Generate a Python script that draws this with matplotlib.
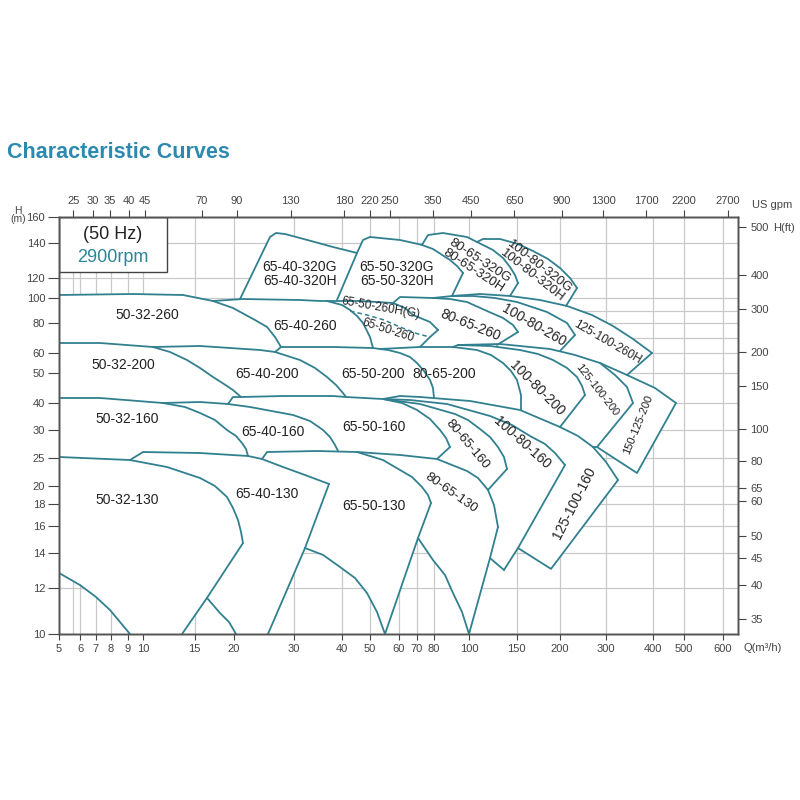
import numpy as np
import matplotlib
matplotlib.use("Agg")
import matplotlib.pyplot as plt
from matplotlib.patches import Polygon, Rectangle

plt.rcParams["font.family"] = ["Liberation Sans", "DejaVu Sans"]

TEAL = "#31808f"
TITLE_BLUE = "#2d89b0"
GRID = "#c9c9c9"
AXIS = "#555555"

# axis ticks
Q_TICKS = [5, 6, 7, 8, 9, 10, 15, 20, 30, 40, 50, 60, 70, 80, 100, 150, 200, 300, 400, 500, 600]
H_TICKS = [10, 12, 14, 16, 18, 20, 25, 30, 40, 50, 60, 80, 100, 120, 140, 160]
GPM_TICKS = [25, 30, 35, 40, 45, 70, 90, 130, 180, 220, 250, 350, 450, 650, 900, 1300, 1700, 2200, 2700]
FT_TICKS = [35, 40, 45, 50, 60, 65, 80, 100, 150, 200, 300, 400, 500]
Q_GRID = [5.68, 6, 7, 8, 9, 10, 15, 20, 30, 40, 50, 60, 70, 80, 100, 150, 200, 300, 400, 500, 600]
H_GRID = [12, 14, 16, 18, 20, 25, 30, 40, 50, 60, 70, 80, 90, 100, 120, 140]

# the sheet's axes are not a clean log scale: value -> pixel calibration read off the ticks
Q_CAL = [5, 6, 7, 8, 9, 10, 15, 20, 30, 40, 50, 60, 70, 80, 100, 150, 200, 300, 400, 500, 600, 640]
X_CAL = [59, 80, 95.5, 111, 127.5, 143, 194.5, 234, 293.5, 341.5, 370, 399, 417, 434, 469,
         516.5, 560, 605.5, 653, 684, 723, 738]
H_CAL = [10, 12, 14, 16, 18, 20, 25, 30, 40, 50, 60, 80, 100, 120, 140, 160]
Y_CAL = [166, 212, 247, 274, 296, 314, 342, 370, 397, 427, 447, 477, 502, 522, 557, 583]

M3H_TO_GPM = 4.403
M_TO_FT = 3.281

# ---- boundary curves of the pump ranges, (Q m3/h, H m) ----
# size 130
top_50_32_130 = [(5, 25.18), (9.16, 24.64), (12.33, 23.39), (15.7, 21.43), (17.59, 20), (19.11, 18.78),
                 (19.87, 17.64), (20.67, 16.55), (21.18, 15.56), (21.51, 14.74)]
edge_50_32_130 = [(21.51, 14.74), (16.58, 11.57), (13.79, 10)]
min_50_32_130 = [(9.16, 10), (7.94, 11.04), (7.03, 11.61), (6, 12.17), (5, 12.86)]
top_65_40_130 = [(9.16, 24.64), (10, 26.07), (15.7, 25.89), (22.35, 25.36), (24.71, 24.82), (28.24, 23.39),
                 (32.4, 21.96), (37.4, 20.36)]
edge_65_40_130 = [(37.4, 20.36), (32.4, 14.37), (25.71, 10)]
min_65_40_130 = [(16.58, 11.57), (18.23, 10.91), (19.37, 10.52), (20.34, 10)]
top_65_50_130 = [(24.71, 24.82), (25.55, 26.07), (34.9, 26.25), (45.44, 26.07), (54.48, 24.64), (60.56, 22.86),
                 (67.2, 21.61), (72.94, 19.89), (76.47, 19), (78.24, 18.11)]
edge_65_50_130 = [(78.24, 18.11), (70.59, 15.11), (55.17, 10)]
min_65_50_130 = [(32.4, 14.37), (36.15, 13.89), (39.69, 13.2), (44.74, 12.57), (48.95, 11.78), (52.41, 10.96),
                 (55.17, 10)]
top_80_65_130 = [(45.44, 26.07), (60.56, 25.54), (81.71, 24.82), (98.86, 22.68), (109.47, 21.43), (120, 19.56),
                 (126.3, 17.91), (130.5, 15.93)]
edge_80_65_130 = [(130.5, 15.93), (122.1, 13.71), (100, 10)]
min_80_65_130 = [(70.59, 15.11), (79.41, 13.6), (86.29, 12.74), (90.86, 11.78), (96, 10.96), (100, 10)]

# size 160
top_50_32_160 = [(5, 41.67), (7.29, 41.67), (11.94, 40)]
right_50_32_160 = [(11.94, 40), (14.08, 38.52), (15.7, 36.3), (17.59, 33.7), (19.11, 30), (20.34, 28.93),
                   (21.34, 27.68), (22.02, 26.61), (22.35, 25.36)]
top_65_40_160 = [(11.94, 40), (15.7, 40.33), (19.24, 39.63), (22.69, 38.52), (29.92, 35.56), (33.44, 33.33),
                 (36.15, 30), (37.6, 28.75), (38.65, 27.32), (39.27, 26.25)]
top_65_50_160 = [(19.24, 39.63), (19.87, 42), (21.18, 42), (28.24, 42.33), (38.23, 42.33), (41.58, 42),
                 (54.48, 41.33), (61.67, 40), (70, 37.41), (77.65, 34.07), (83.43, 30), (86.86, 28.57),
                 (89.14, 26.96)]
edge_65_50_160 = [(89.14, 26.96), (81.71, 24.82)]
top_80_65_160 = [(54.48, 41.33), (71.76, 39.63), (92, 35.93), (99.43, 33.7), (111.58, 30.37), (122.1, 28.75),
                 (130.5, 26.96), (136.8, 25.18), (140, 23.04)]
edge_80_65_160 = [(140, 23.04), (120, 19.56)]
top_100_80_160 = [(54.48, 41.33), (66.11, 41), (87.43, 39.63), (122.1, 35.19), (145.26, 31.85), (165.52, 28.93),
                  (182.76, 27.5), (194.25, 25.89), (210.99, 23.75)]
edge_100_80_160 = [(210.99, 23.75), (151.72, 14.37), (136.84, 13.03)]
low_100_80_160 = [(136.84, 13.03), (122.1, 13.71)]
top_125_100_160 = [(54.48, 41.33), (60.56, 42.33), (71.76, 42), (101.05, 40.67), (154.02, 37.41), (200, 31.11),
                   (239.56, 28.93), (272.53, 26.96), (301.05, 24.29), (326.32, 21.07)]
edge_125_100_160 = [(326.32, 21.07), (189.66, 13.09), (151.72, 14.37)]

# size 200
top_50_32_200 = [(5, 66.67), (7.29, 66.67), (10.97, 64)]
right_50_32_200 = [(10.97, 64), (12.62, 60.67), (14.27, 56.5), (15.7, 52.5), (17.34, 48.67), (18.73, 46.33),
                   (19.87, 44.33), (21.18, 42)]
top_65_40_200 = [(10.97, 64), (15.7, 64.67), (24.37, 62), (26.89, 60.67), (31.35, 56.5), (34.48, 52.5),
                 (36.98, 48.67), (38.85, 46), (40.53, 43.33), (41.58, 42)]
top_65_50_200 = [(26.89, 60.67), (27.9, 64), (38.23, 64), (51.03, 63.33), (53.45, 62.67), (56.21, 62),
                 (60.56, 60), (66.11, 58), (70, 55), (74.12, 51), (77.65, 47.67), (79.41, 45), (80, 41.67)]
top_80_65_200 = [(53.45, 62.67), (71.76, 64), (90.86, 64), (108.42, 62), (123.16, 59), (135.79, 55),
                 (144.21, 51), (150.57, 47.67), (155.17, 42.67), (155.17, 37.41)]
top_100_80_200 = [(90.86, 64), (93.71, 65.33), (122.1, 64.67), (154.02, 62), (174.71, 59.5), (191.95, 56.5),
                  (215.38, 52.5), (237.36, 48.67), (248.35, 45.67), (254.95, 42.67)]
edge_100_80_200 = [(254.95, 42.67), (200, 31.11)]
top_125_100_200 = [(93.71, 65.33), (132.63, 66), (188.51, 62.67), (232.97, 59), (287.91, 55), (320, 49.33),
                   (345.26, 45.33), (357.89, 40)]
edge_125_100_200 = [(357.89, 40), (281.32, 26.96), (272.53, 26.96)]
top_150_125_200 = [(287.91, 55), (345.26, 49.33), (406.45, 45), (474.19, 40)]
edge_150_125_200 = [(474.19, 40), (366.32, 22.32), (281.32, 26.96)]

# size 260
top_50_32_260 = [(5, 103), (9.35, 104), (13.88, 103), (17.34, 97.6)]
right_50_32_260 = [(17.34, 97.6), (19.87, 92), (23.53, 82.4), (25.55, 77.33), (26.89, 70.67), (27.9, 64)]
top_65_40_260 = [(17.34, 97.6), (21.51, 99.2), (31.35, 98.4), (35.52, 97.6), (36.98, 97.6), (40.18, 94.4),
                 (42.98, 90.4), (45.44, 85.6), (47.54, 80), (50, 70.67), (51.03, 63.33)]
top_65_50_260 = [(36.98, 97.6), (46.49, 97.6), (57.93, 96), (63.33, 92), (67.78, 86.4), (77.65, 80.8),
                 (82.29, 75.33)]
edge_65_50_260 = [(82.29, 75.33), (77.65, 70.67), (71.76, 64)]
std_65_50_260 = [(42.98, 89.6), (48.95, 86.4), (54.83, 82.4), (60.56, 77.33), (70.59, 72.67), (77.65, 70.67)]
top_80_65_260 = [(57.93, 96), (60.56, 101), (79.41, 100), (89.14, 99.2), (98.86, 96.8), (118.95, 89.6),
                 (135.79, 84), (146.32, 78.67), (151.72, 74)]
edge_80_65_260 = [(151.72, 74), (129.47, 65.33)]
top_100_80_260 = [(79.41, 100), (90.29, 102), (104.21, 102), (127.37, 100), (150.57, 96.8), (185.06, 88.8),
                  (215.38, 80), (232.97, 72)]
edge_100_80_260 = [(232.97, 72), (200, 61.33)]
top_125_100_260 = [(90.29, 102), (111.58, 104), (143.16, 102), (177.01, 98.4), (215.38, 93.6), (270.33, 86.4),
                   (315.79, 78), (357.89, 69.33), (397.89, 60)]
edge_125_100_260 = [(397.89, 60), (345.26, 49.33)]

# size 320
outline_65_40_320 = [(21.01, 99.2), (26.05, 144.62), (27.06, 147.69), (28.57, 146.92), (31.35, 143.85),
                     (38.23, 137.71), (45.44, 134.29)]
left_65_50_320 = [(39.06, 98.4), (45.44, 134.29), (47.54, 142.31), (50, 144.62)]
top_65_50_320 = [(50, 144.62), (60.56, 142.31), (70.59, 139.43), (72.94, 138.86), (79.41, 136.57),
                 (89.14, 130.29), (93.14, 126.86), (96.57, 122.86)]
edge_65_50_320 = [(96.57, 122.86), (90.29, 102)]
top_80_65_320 = [(72.94, 138.86), (76.47, 146.15), (85.14, 147.69), (98.86, 144.62), (108.42, 140.77),
                 (125.26, 136), (135.79, 131.43), (143.16, 126.29), (148.42, 121.71), (151.72, 115)]
edge_80_65_320 = [(151.72, 115), (143.16, 102)]
top_100_80_320 = [(108.42, 140.77), (114.74, 143.08), (132.63, 143.08), (151.72, 139.43), (168.97, 135.43),
                  (186.21, 130.86), (200, 125.71), (221.98, 120), (237.36, 110)]
edge_100_80_320 = [(237.36, 110), (213.19, 93.6)]

curves = [
    top_50_32_130, edge_50_32_130, min_50_32_130, top_65_40_130, edge_65_40_130, min_65_40_130,
    top_65_50_130, edge_65_50_130, min_65_50_130, top_80_65_130, edge_80_65_130, min_80_65_130,
    top_50_32_160, right_50_32_160, top_65_40_160, top_65_50_160, edge_65_50_160, top_80_65_160,
    edge_80_65_160, top_100_80_160, edge_100_80_160, low_100_80_160, top_125_100_160, edge_125_100_160,
    top_50_32_200, right_50_32_200, top_65_40_200, top_65_50_200, top_80_65_200, top_100_80_200,
    edge_100_80_200, top_125_100_200, edge_125_100_200, top_150_125_200, edge_150_125_200,
    top_50_32_260, right_50_32_260, top_65_40_260, top_65_50_260, edge_65_50_260, top_80_65_260,
    edge_80_65_260, top_100_80_260, edge_100_80_260, top_125_100_260, edge_125_100_260,
    outline_65_40_320, left_65_50_320, top_65_50_320, edge_65_50_320, top_80_65_320, edge_80_65_320,
    top_100_80_320, edge_100_80_320,
]

# each range's white area, walked along its boundary curves (curve, from index, to index)
regions = [
    [(top_50_32_130, 0, 9), (edge_50_32_130, 0, 2), (min_50_32_130, 0, 4)],
    [(top_65_40_130, 0, 7), (edge_65_40_130, 0, 2), (min_65_40_130, 3, 0), (edge_50_32_130, 1, 0),
     (top_50_32_130, 9, 1)],
    [(top_65_50_130, 0, 9), (edge_65_50_130, 0, 2), (min_65_50_130, 6, 0), (edge_65_40_130, 1, 0),
     (top_65_40_130, 7, 4)],
    [(top_80_65_130, 0, 7), (edge_80_65_130, 0, 2), (min_80_65_130, 5, 0), (edge_65_50_130, 1, 0),
     (top_65_50_130, 9, 3)],
    [(top_50_32_160, 0, 2), (right_50_32_160, 0, 8), (top_65_40_130, 3, 0), (top_50_32_130, 1, 0)],
    [(top_65_40_160, 0, 9), (top_65_50_130, 2, 0), (top_65_40_130, 3, 3), (right_50_32_160, 8, 0)],
    [(top_65_50_160, 0, 12), (edge_65_50_160, 0, 1), (top_80_65_130, 2, 0), (top_65_40_160, 9, 2)],
    [(top_80_65_160, 0, 8), (edge_80_65_160, 0, 1), (top_80_65_130, 5, 2), (edge_65_50_160, 1, 0),
     (top_65_50_160, 12, 6)],
    [(top_100_80_160, 0, 8), (edge_100_80_160, 0, 2), (low_100_80_160, 0, 1), (edge_80_65_130, 1, 0),
     (top_80_65_130, 7, 5), (edge_80_65_160, 1, 0), (top_80_65_160, 8, 0)],
    [(top_125_100_160, 0, 9), (edge_125_100_160, 0, 2), (edge_100_80_160, 1, 0), (top_100_80_160, 8, 0)],
    [(top_50_32_200, 0, 2), (right_50_32_200, 0, 7), (top_65_50_160, 2, 0), (top_65_40_160, 2, 0),
     (top_50_32_160, 2, 0)],
    [(top_65_40_200, 0, 9), (top_65_50_160, 5, 2), (right_50_32_200, 7, 0)],
    [(top_65_50_200, 0, 12), (top_125_100_160, 2, 0), (top_65_50_160, 5, 5), (top_65_40_200, 9, 3)],
    [(top_80_65_200, 0, 9), (top_125_100_160, 3, 3), (top_65_50_200, 12, 4)],
    [(top_100_80_200, 0, 9), (edge_100_80_200, 0, 1), (top_125_100_160, 5, 4), (top_80_65_200, 9, 2)],
    [(top_125_100_200, 0, 7), (edge_125_100_200, 0, 2), (top_125_100_160, 7, 5), (edge_100_80_200, 1, 0),
     (top_100_80_200, 9, 1)],
    [(top_150_125_200, 0, 3), (edge_150_125_200, 0, 2), (edge_125_100_200, 1, 0), (top_125_100_200, 7, 4)],
    [(top_50_32_260, 0, 3), (right_50_32_260, 0, 5), (top_65_40_200, 3, 0), (top_50_32_200, 2, 0)],
    [(top_65_40_260, 0, 10), (top_65_50_200, 2, 1), (right_50_32_260, 5, 0)],
    [(top_65_50_260, 0, 6), (edge_65_50_260, 0, 2), (top_80_65_200, 0, 0), (top_65_50_200, 3, 3),
     (top_65_40_260, 10, 4)],
    [(top_80_65_260, 0, 8), (edge_80_65_260, 0, 1), (top_125_100_200, 0, 0), (top_80_65_200, 2, 1),
     (edge_65_50_260, 2, 0), (top_65_50_260, 6, 2)],
    [(top_100_80_260, 0, 7), (edge_100_80_260, 0, 1), (top_125_100_200, 2, 1), (edge_80_65_260, 1, 0),
     (top_80_65_260, 8, 2)],
    [(top_125_100_260, 0, 8), (edge_125_100_260, 0, 1), (top_150_125_200, 0, 0), (top_125_100_200, 3, 3),
     (edge_100_80_260, 1, 0), (top_100_80_260, 7, 1)],
    [(outline_65_40_320, 0, 6), (left_65_50_320, 1, 0), (top_65_50_260, 0, 0), (top_65_40_260, 3, 1)],
    [(left_65_50_320, 0, 3), (top_65_50_320, 0, 7), (edge_65_50_320, 0, 1), (top_100_80_260, 0, 0),
     (top_80_65_260, 1, 0), (top_65_50_260, 1, 1)],
    [(top_80_65_320, 0, 9), (edge_80_65_320, 0, 1), (top_125_100_260, 2, 0), (edge_65_50_320, 1, 0),
     (top_65_50_320, 7, 3)],
    [(top_100_80_320, 0, 8), (edge_100_80_320, 0, 1), (top_125_100_260, 4, 2), (edge_80_65_320, 1, 0),
     (top_80_65_320, 9, 4)],
]

# label text, Q, H, rotation, font size
labels = [
    ("65-40-320G\n65-40-320H", 31.35, 122.3, 0, 10),
    ("65-50-320G\n65-50-320H", 59.3, 122.3, 0, 10),
    ("80-65-320G\n80-65-320H", 108.4, 126.9, -33, 9.5),
    ("100-80-320G\n100-80-320H", 172.4, 124, -38, 9.5),
    ("50-32-260", 10.39, 86.4, 0, 10),
    ("65-40-260", 32.4, 78, 0, 10),
    ("65-50-260H(G)", 53.8, 92, -10, 8.5),
    ("65-50-260", 56.2, 75.33, -18, 8.5),
    ("80-65-260", 101, 78.67, -22, 10),
    ("100-80-260", 170, 78.67, -30, 10),
    ("125-100-260H", 303, 67.3, -30, 8.5),
    ("50-32-200", 8.76, 54, 0, 10),
    ("65-40-200", 25.5, 49.67, 0, 10),
    ("65-50-200", 51, 49.67, 0, 10),
    ("80-65-200", 85.7, 49.67, 0, 10),
    ("100-80-200", 173.6, 45, -45, 10),
    ("125-100-200", 281.3, 44.33, -52, 8),
    ("150-125-200", 368, 31.85, 68, 8),
    ("50-32-160", 9, 34.1, 0, 10),
    ("65-40-160", 26.6, 29.64, 0, 10),
    ("65-50-160", 51.4, 31.1, 0, 10),
    ("80-65-160", 98.9, 27.5, -50, 9.5),
    ("100-80-160", 156.3, 27.7, -42, 10),
    ("125-100-160", 230.8, 18.1, 63, 10),
    ("50-32-130", 9, 18.44, 0, 10),
    ("65-40-130", 25.5, 19.1, 0, 10),
    ("65-50-130", 51.4, 17.8, 0, 10),
    ("80-65-130", 89.7, 19.2, -35, 9.5),
]


def func_scale(vals, pix, factor=1.0):
    vals = np.asarray(vals, float)
    pix = np.asarray(pix, float)

    def fwd(v):
        return np.interp(np.asarray(v, float) / factor, vals, pix)

    def inv(p):
        return np.interp(p, pix, vals) * factor

    return fwd, inv


def walk(parts):
    pts = []
    for curve, i0, i1 in parts:
        step = 1 if i1 >= i0 else -1
        pts += [curve[i] for i in range(i0, i1 + step, step)]
    return np.array(pts)


fig = plt.figure(figsize=(8, 8), dpi=100)
ax = fig.add_axes([59 / 800, 166 / 800, 679 / 800, 417 / 800])
ax.set_xscale("function", functions=func_scale(Q_CAL, X_CAL))
ax.set_yscale("function", functions=func_scale(H_CAL, Y_CAL))
ax.set_xlim(5, 640)
ax.set_ylim(10, 160)

for q in Q_GRID:
    ax.axvline(q, color=GRID, lw=0.9, zorder=0.5)
for h in H_GRID:
    ax.axhline(h, color=GRID, lw=0.9, zorder=0.5)

for parts in regions:
    ax.add_patch(Polygon(walk(parts), closed=True, facecolor="white", edgecolor="white",
                         lw=0.6, zorder=2))
for c in curves:
    q, h = zip(*c)
    ax.plot(q, h, color=TEAL, lw=1.3, solid_joinstyle="round", solid_capstyle="round", zorder=3)
q, h = zip(*std_65_50_260)
ax.plot(q, h, color=TEAL, lw=1.1, ls=(0, (3, 2)), zorder=3)

for text, q, h, rot, fs in labels:
    ax.text(q, h, text, rotation=rot, rotation_mode="anchor", ha="center", va="center",
            fontsize=fs, color="#222222", linespacing=0.95, zorder=4)

# 50 Hz box
ax.add_patch(Rectangle((0, 0.868), 0.159, 0.132, transform=ax.transAxes, facecolor="white",
                       edgecolor="#444444", lw=1.0, zorder=4))
ax.text(0.0795, 0.959, "(50 Hz)", transform=ax.transAxes, ha="center", va="center",
        fontsize=13, color="#222222", zorder=5)
ax.text(0.0795, 0.904, "2900rpm", transform=ax.transAxes, ha="center", va="center",
        fontsize=13, color="#2e8596", zorder=5)

ax.set_xticks(Q_TICKS)
ax.set_xticklabels([str(v) for v in Q_TICKS])
ax.set_yticks(H_TICKS)
ax.set_yticklabels([str(v) for v in H_TICKS])
ax.minorticks_off()
ax.tick_params(axis="x", direction="out", length=4, pad=3, labelsize=8, colors="#444444")
ax.tick_params(axis="y", direction="out", length=8, pad=2, labelsize=8, colors="#444444")

axt = ax.twiny()
axt.set_xscale("function", functions=func_scale(Q_CAL, X_CAL, M3H_TO_GPM))
axt.set_xlim(5 * M3H_TO_GPM, 640 * M3H_TO_GPM)
axt.set_xticks(GPM_TICKS)
axt.set_xticklabels([str(v) for v in GPM_TICKS])
axt.minorticks_off()
axt.tick_params(axis="x", direction="out", length=5, pad=3, labelsize=8, colors="#444444")

axr = ax.twinx()
axr.set_yscale("function", functions=func_scale(H_CAL, Y_CAL, M_TO_FT))
axr.set_ylim(10 * M_TO_FT, 160 * M_TO_FT)
axr.set_yticks(FT_TICKS)
axr.set_yticklabels([str(v) for v in FT_TICKS])
axr.minorticks_off()
axr.tick_params(axis="y", direction="out", length=6, pad=3, labelsize=8, colors="#444444")

for a in (ax, axt, axr):
    for s in a.spines.values():
        s.set_color(AXIS)
        s.set_linewidth(1.0)
        s.set_zorder(5)

fig.text(7 / 800, 1 - 153 / 800, "Characteristic Curves", fontsize=15.5, fontweight="bold",
         color=TITLE_BLUE, ha="left", va="center")
fig.text(18 / 800, 1 - 215 / 800, "H\n(m)", fontsize=7.5, color="#444444", ha="center",
         va="center", linespacing=0.85)
fig.text(752 / 800, 1 - 205 / 800, "US gpm", fontsize=8, color="#444444", ha="left", va="center")
fig.text(773 / 800, 1 - 228 / 800, "H(ft)", fontsize=8, color="#444444", ha="left", va="center")
fig.text(744 / 800, 1 - 648 / 800, "Q(m³/h)", fontsize=8, color="#444444", ha="left", va="center")

fig.savefig("out.png", dpi=100)
